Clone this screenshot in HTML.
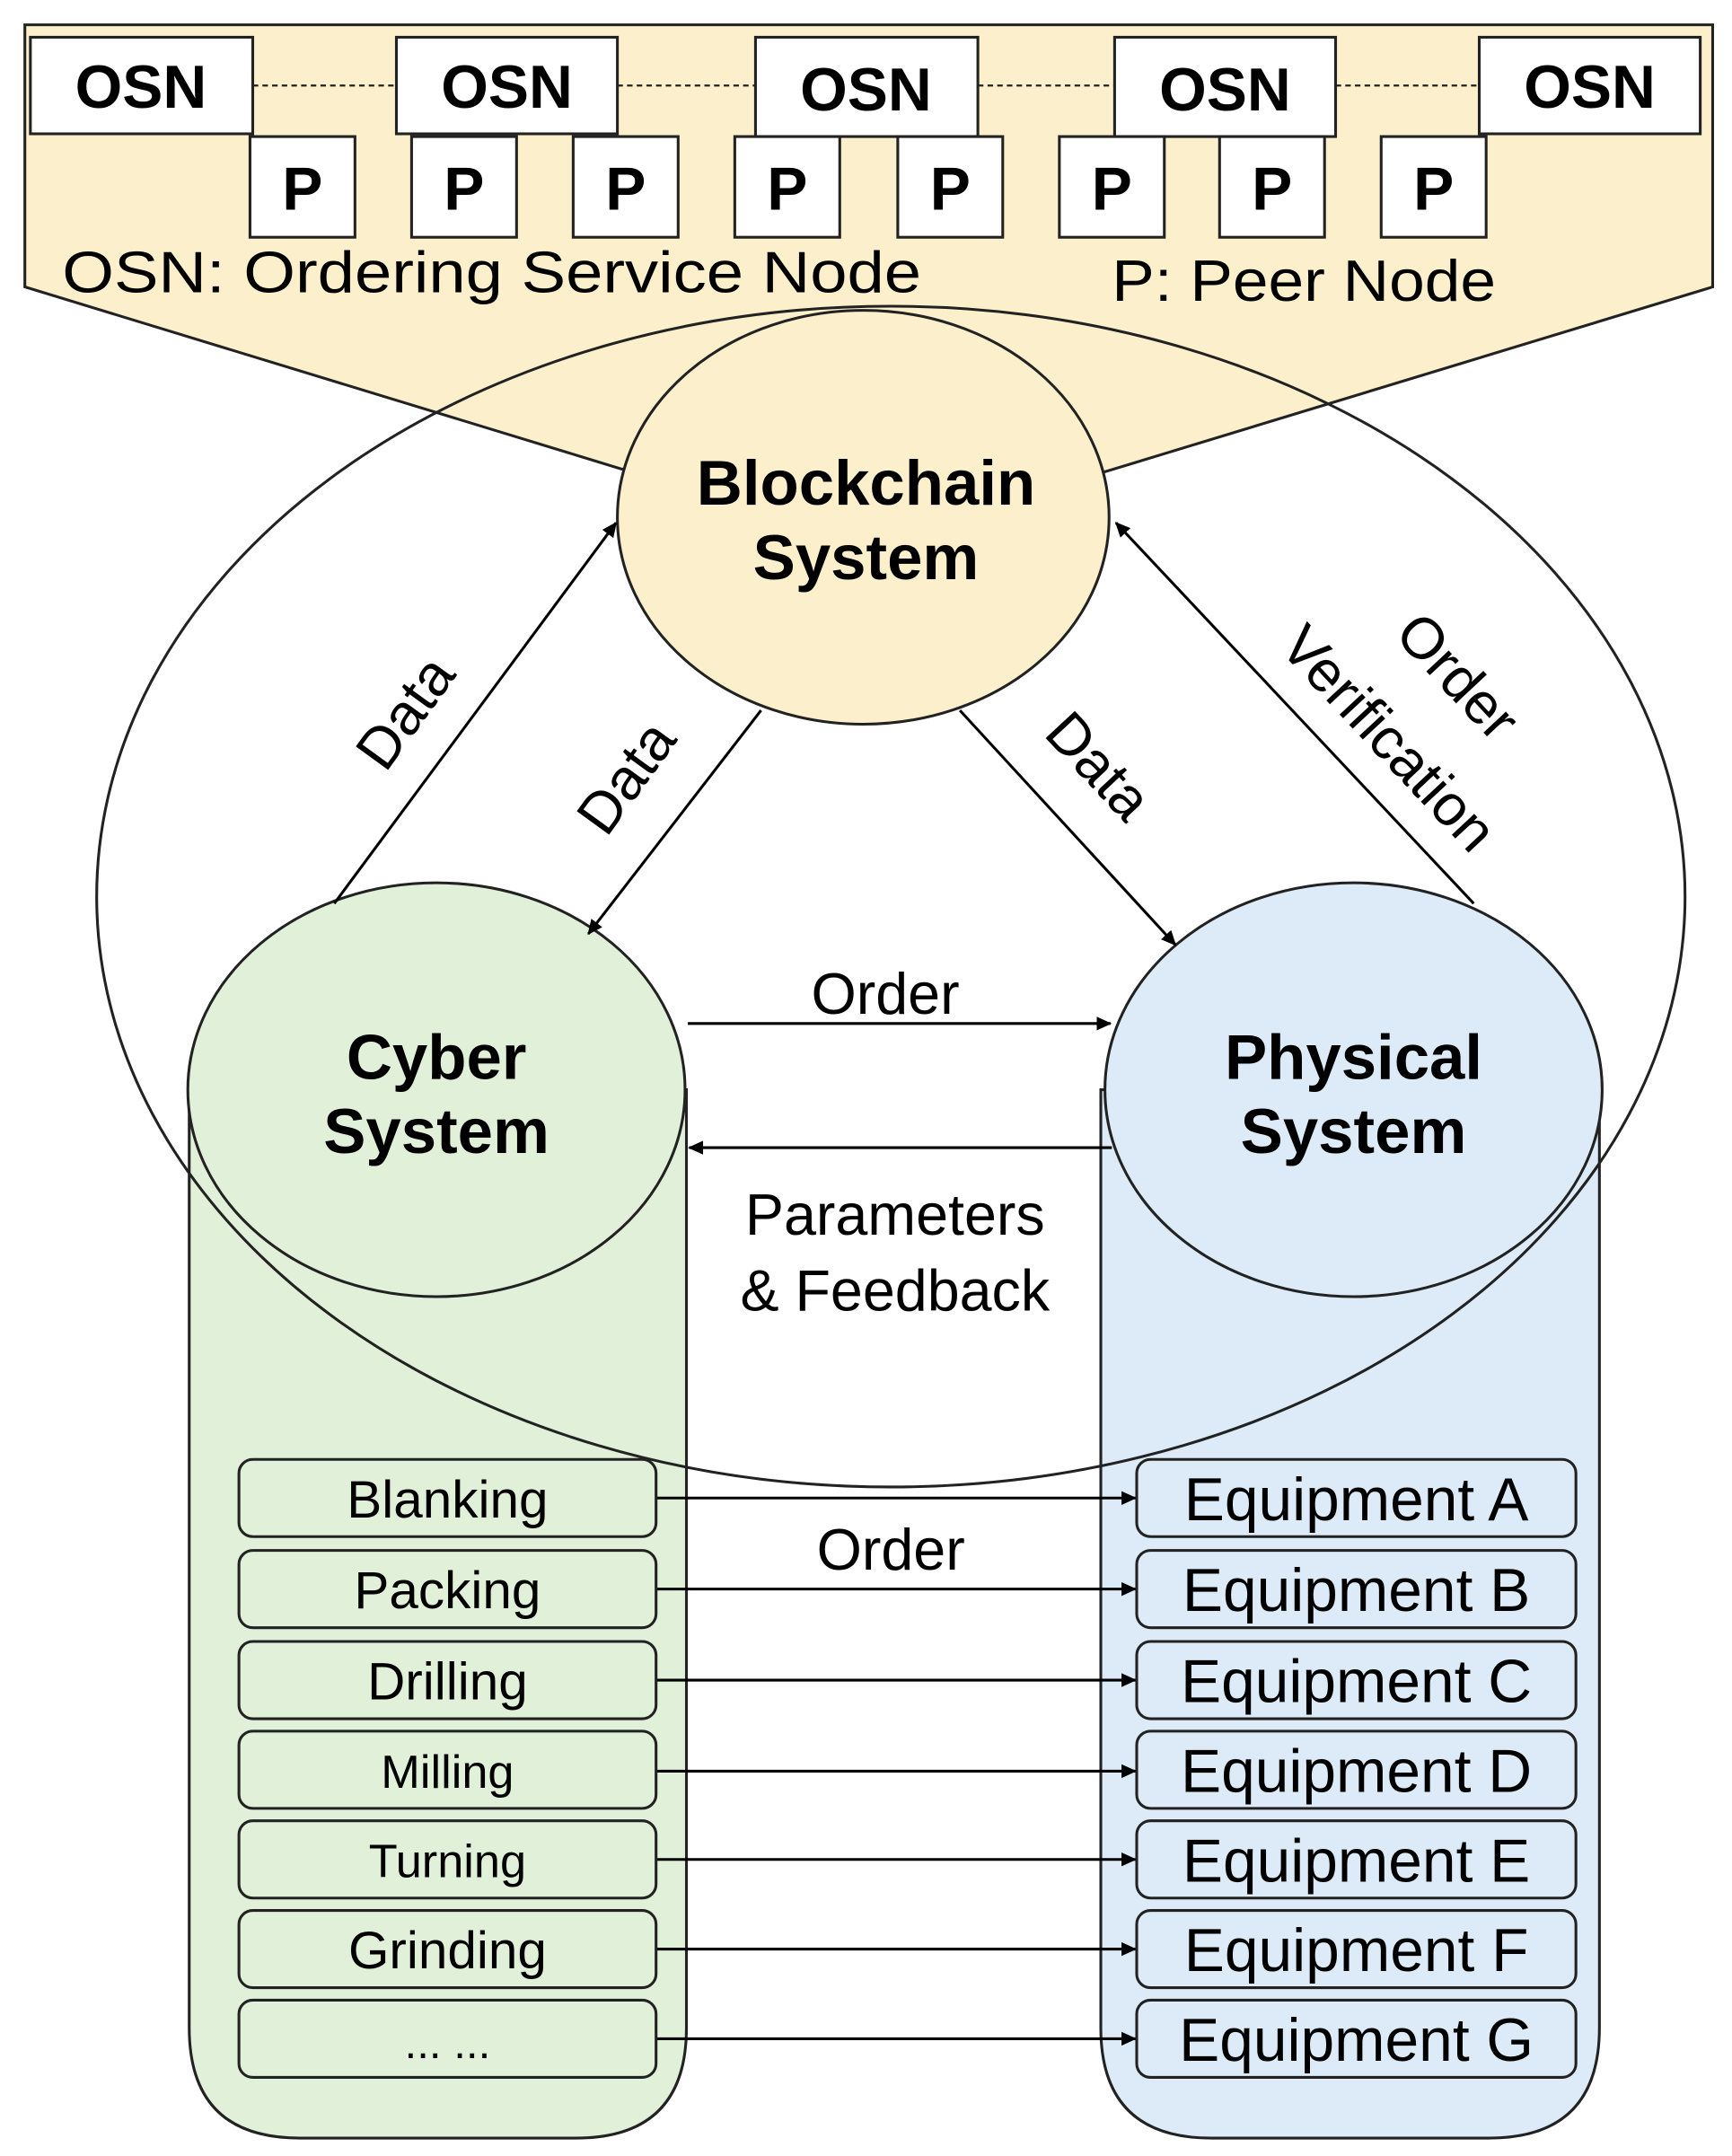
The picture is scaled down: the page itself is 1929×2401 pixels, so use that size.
<!DOCTYPE html>
<html><head><meta charset="utf-8"><style>
html,body{margin:0;padding:0;background:#fff}
svg{display:block}
text{font-family:"Liberation Sans",sans-serif;fill:#000}
</style></head><body>
<svg width="1929" height="2401" viewBox="0 0 1254 1563" preserveAspectRatio="none" xmlns="http://www.w3.org/2000/svg">
<defs>
<marker id="a" markerWidth="12" markerHeight="12" refX="10" refY="5" orient="auto" markerUnits="userSpaceOnUse"><path d="M0,0 L11,5 L0,10 z" fill="#000"/></marker>
</defs>
<polygon points="18,18 1240,18 1240,208 800,342 450,340 18,208" fill="#fcefcb" stroke="#222" stroke-width="2"/>
<path d="M137,790 L137,1470 Q137,1550 217,1550 L417,1550 Q497,1550 497,1470 L497,790 Z" fill="#e1f0d9" stroke="#222" stroke-width="2"/>
<path d="M797,790 L797,1470 Q797,1550 877,1550 L1078,1550 Q1158,1550 1158,1470 L1158,790 Z" fill="#dcebf7" stroke="#222" stroke-width="2"/>
<ellipse cx="645" cy="650" rx="575" ry="428" fill="none" stroke="#222" stroke-width="2"/>
<ellipse cx="316" cy="790" rx="180" ry="150" fill="#e1f0d9" stroke="#222" stroke-width="2"/>
<ellipse cx="980" cy="790" rx="180" ry="150" fill="#dcebf7" stroke="#222" stroke-width="2"/>
<ellipse cx="625" cy="375" rx="178" ry="150" fill="#fcefcb" stroke="#222" stroke-width="2"/>
<g stroke="#222" stroke-width="1.5" stroke-dasharray="4,3"><line x1="183" y1="62" x2="287" y2="62"/><line x1="447" y1="62" x2="547" y2="62"/><line x1="708" y1="62" x2="807" y2="62"/><line x1="967" y1="62" x2="1071" y2="62"/></g>
<g fill="#fff" stroke="#222" stroke-width="2">
<rect x="22" y="27" width="161" height="70"/><rect x="287" y="27" width="160" height="70"/><rect x="547" y="27" width="161" height="72"/><rect x="807" y="27" width="160" height="72"/><rect x="1071" y="27" width="160" height="70"/>
<rect x="181" y="99" width="76" height="73"/><rect x="298" y="99" width="76" height="73"/><rect x="415" y="99" width="76" height="73"/><rect x="532" y="99" width="76" height="73"/><rect x="650" y="99" width="76" height="73"/><rect x="767" y="99" width="76" height="73"/><rect x="883" y="99" width="76" height="73"/><rect x="1000" y="99" width="76" height="73"/>
</g>
<g font-size="44" font-weight="bold" text-anchor="middle">
<text x="102" y="78">OSN</text><text x="367" y="78">OSN</text><text x="627" y="80">OSN</text><text x="887" y="80">OSN</text><text x="1151" y="78">OSN</text>
<text x="219" y="152">P</text><text x="336" y="152">P</text><text x="453" y="152">P</text><text x="570" y="152">P</text><text x="688" y="152">P</text><text x="805" y="152">P</text><text x="921" y="152">P</text><text x="1038" y="152">P</text>
</g>
<text x="45" y="212" font-size="42" textLength="622" lengthAdjust="spacingAndGlyphs">OSN: Ordering Service Node</text>
<text x="805" y="218" font-size="42" textLength="278" lengthAdjust="spacingAndGlyphs">P: Peer Node</text>
<g font-size="46" font-weight="bold" text-anchor="middle">
<text x="627" y="366">Blockchain</text><text x="627" y="420">System</text>
<text x="316" y="782">Cyber</text><text x="316" y="836">System</text>
<text x="980" y="782">Physical</text><text x="980" y="836">System</text>
</g>
<g stroke="#000" stroke-width="2" marker-end="url(#a)">
<line x1="242" y1="655" x2="446" y2="379"/>
<line x1="551" y1="515" x2="426" y2="677"/>
<line x1="695" y1="515" x2="851" y2="685"/>
<line x1="1067" y1="655" x2="808" y2="379"/>
<line x1="498" y1="742" x2="804" y2="742"/>
<line x1="805" y1="832" x2="499" y2="832"/>
<line x1="475" y1="1086" x2="822" y2="1086"/>
<line x1="475" y1="1152" x2="822" y2="1152"/>
<line x1="475" y1="1218" x2="822" y2="1218"/>
<line x1="475" y1="1284" x2="822" y2="1284"/>
<line x1="475" y1="1348" x2="822" y2="1348"/>
<line x1="475" y1="1413" x2="822" y2="1413"/>
<line x1="475" y1="1478" x2="822" y2="1478"/>
</g>
<g font-size="42" text-anchor="middle">
<text transform="translate(305,525) rotate(-54)">Data</text>
<text transform="translate(465,572) rotate(-54)">Data</text>
<text transform="translate(785,565) rotate(47)">Data</text>
<text transform="translate(1045,500) rotate(47)">Order</text>
<text transform="translate(995,545) rotate(47)">Verification</text>
<text x="641" y="735">Order</text>
<text x="648" y="895">Parameters</text>
<text x="648" y="950">&amp; Feedback</text>
<text x="645" y="1138">Order</text>
</g>
<g fill="#e1f0d9" stroke="#222" stroke-width="2">
<rect x="173" y="1058" width="302" height="56" rx="10"/><rect x="173" y="1124" width="302" height="56" rx="10"/><rect x="173" y="1190" width="302" height="56" rx="10"/><rect x="173" y="1255" width="302" height="56" rx="10"/><rect x="173" y="1320" width="302" height="56" rx="10"/><rect x="173" y="1385" width="302" height="56" rx="10"/><rect x="173" y="1450" width="302" height="56" rx="10"/>
</g>
<g fill="#dcebf7" stroke="#222" stroke-width="2">
<rect x="823" y="1058" width="318" height="56" rx="10"/><rect x="823" y="1124" width="318" height="56" rx="10"/><rect x="823" y="1190" width="318" height="56" rx="10"/><rect x="823" y="1255" width="318" height="56" rx="10"/><rect x="823" y="1320" width="318" height="56" rx="10"/><rect x="823" y="1385" width="318" height="56" rx="10"/><rect x="823" y="1450" width="318" height="56" rx="10"/>
</g>
<g text-anchor="middle" font-size="38">
<text x="324" y="1100">Blanking</text><text x="324" y="1166">Packing</text><text x="324" y="1232">Drilling</text><text x="324" y="1296" font-size="34">Milling</text><text x="324" y="1361" font-size="34">Turning</text><text x="324" y="1427">Grinding</text><text x="324" y="1492" font-size="32">... ...</text>
</g>
<g text-anchor="middle" font-size="44">
<text x="982" y="1102">Equipment A</text><text x="982" y="1168">Equipment B</text><text x="982" y="1234">Equipment C</text><text x="982" y="1299">Equipment D</text><text x="982" y="1364">Equipment E</text><text x="982" y="1429">Equipment F</text><text x="982" y="1494">Equipment G</text>
</g>
</svg>
</body></html>
